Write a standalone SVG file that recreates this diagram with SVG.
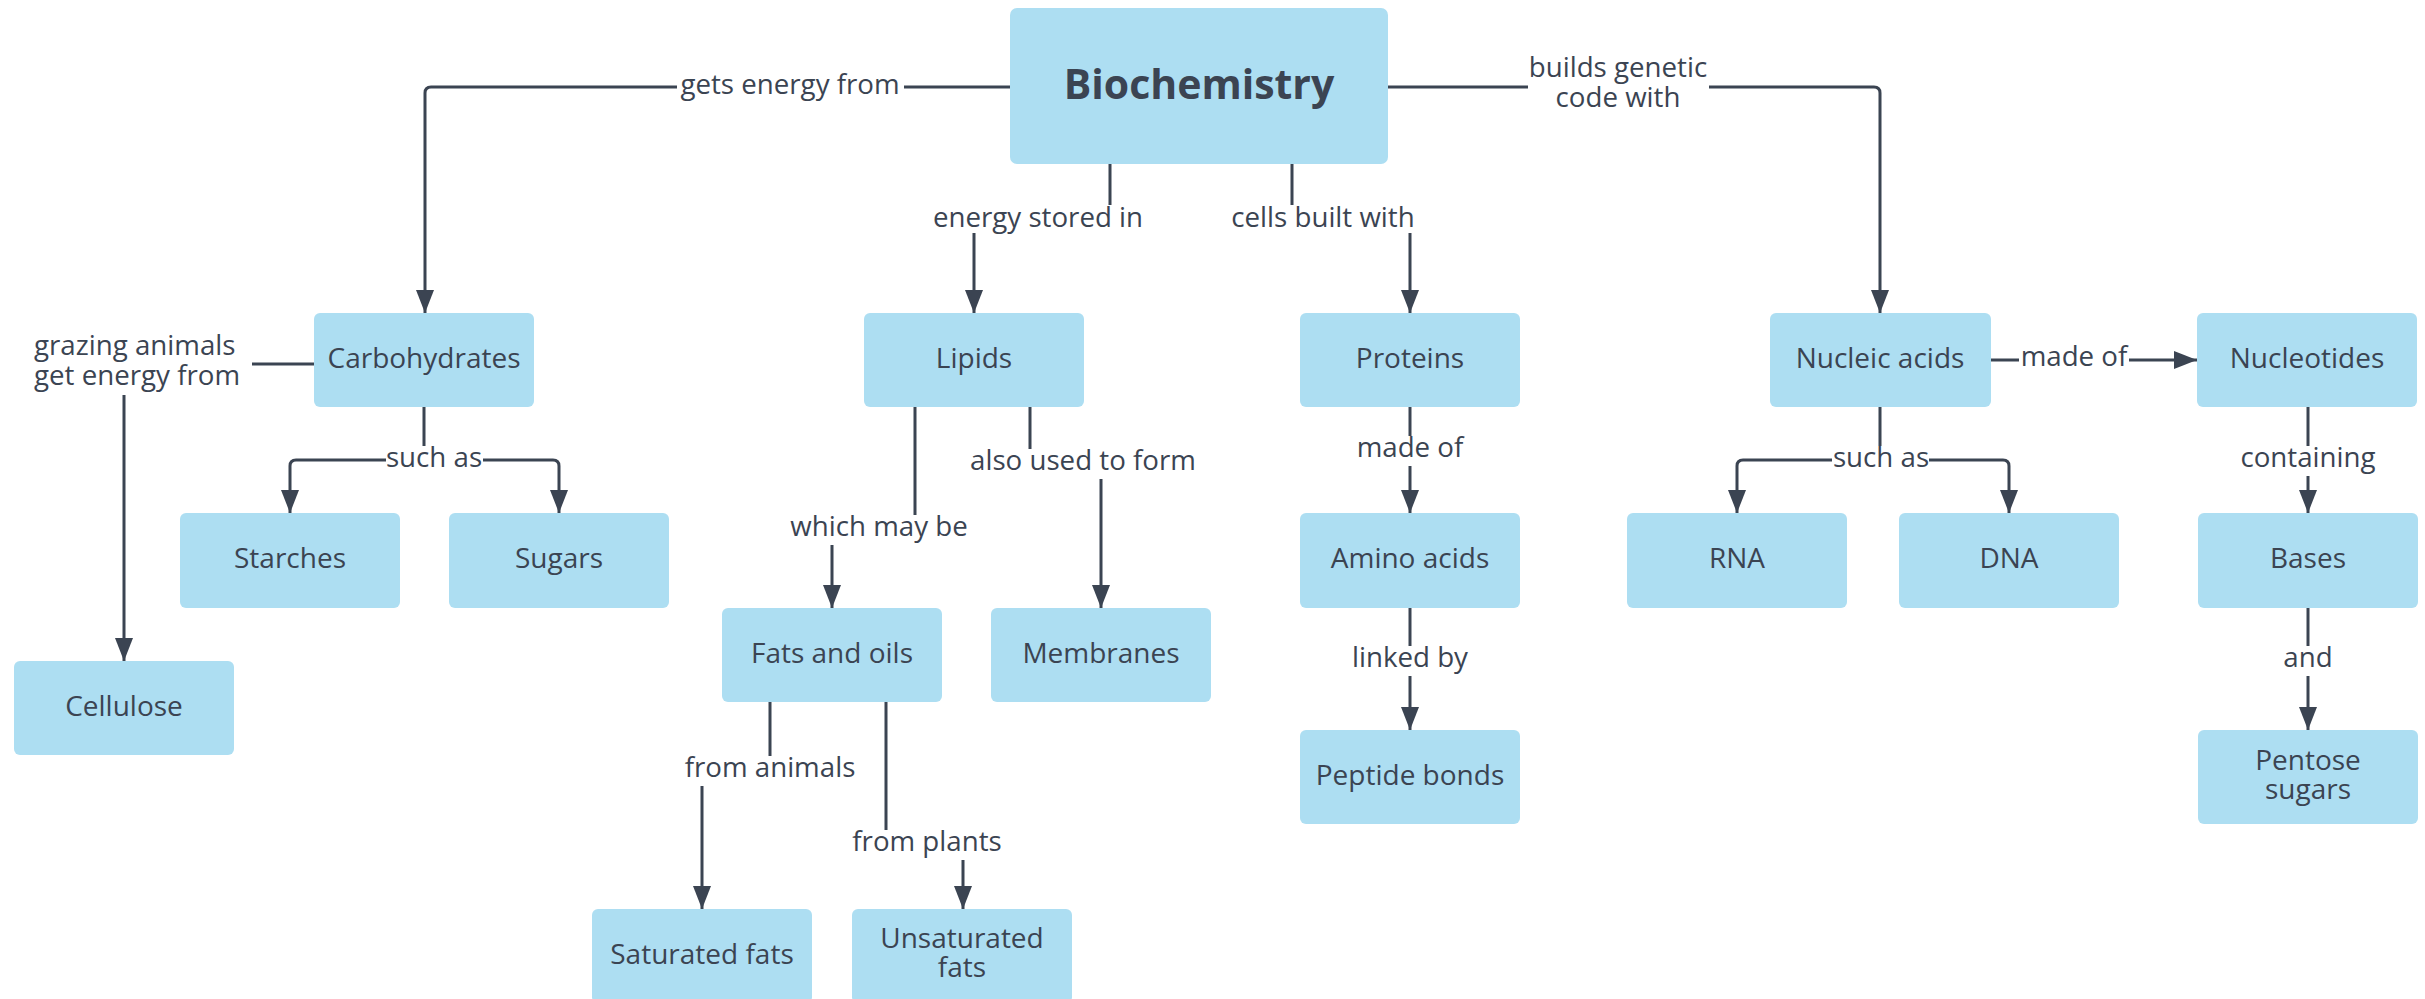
<svg xmlns="http://www.w3.org/2000/svg" width="2425" height="999" viewBox="0 0 2425 999">
<style>
.node rect{fill:#ADDEF2;}
.node text{font-family:"Open Sans","Noto Sans","Liberation Sans",sans-serif;font-size:28px;fill:#3B4452;text-anchor:middle;}
.title{font-size:41px !important;font-weight:bold;}
.conn path{fill:none;stroke:#3B4452;stroke-width:3;}
.lbl rect{fill:#FFFFFF;}
.lbl text{font-family:"Open Sans","Noto Sans","Liberation Sans",sans-serif;font-size:27.7px;fill:#3B4452;text-anchor:middle;}
</style>
<defs>
<marker id="arr" markerUnits="userSpaceOnUse" markerWidth="24" markerHeight="20" refX="23" refY="9" orient="auto">
<path d="M0,0 L23,9 L0,18 Z" fill="#3B4452"/>
</marker>
</defs>
<rect width="2425" height="999" fill="#FFFFFF"/>

<g id="connectors" class="conn">
<path d="M1010,87 H431 Q425,87 425,93 V313" marker-end="url(#arr)"/>
<path d="M1388,87 H1874 Q1880,87 1880,93 V313" marker-end="url(#arr)"/>
<path d="M1110,164 V219 H974 V313" marker-end="url(#arr)"/>
<path d="M1292,164 V219 H1410 V313" marker-end="url(#arr)"/>
<path d="M314,364 H124 V661" marker-end="url(#arr)"/>
<path d="M424,407 V460 H296 Q290,460 290,466 V513" marker-end="url(#arr)"/>
<path d="M424,460 H553 Q559,460 559,466 V513" marker-end="url(#arr)"/>
<path d="M915,407 V529 H832 V608" marker-end="url(#arr)"/>
<path d="M1030,407 V463 H1101 V608" marker-end="url(#arr)"/>
<path d="M770,702 V770 H702 V909" marker-end="url(#arr)"/>
<path d="M886,702 V845 H963 V909" marker-end="url(#arr)"/>
<path d="M1410,407 V513" marker-end="url(#arr)"/>
<path d="M1410,608 V730" marker-end="url(#arr)"/>
<path d="M1880,407 V460 H1743 Q1737,460 1737,466 V513" marker-end="url(#arr)"/>
<path d="M1880,460 H2003 Q2009,460 2009,466 V513" marker-end="url(#arr)"/>
<path d="M1991,360 H2197" marker-end="url(#arr)"/>
<path d="M2308,407 V513" marker-end="url(#arr)"/>
<path d="M2308,608 V730" marker-end="url(#arr)"/>
</g>

<g id="labels" class="lbl">
<rect x="677" y="72" width="227" height="30"/><text x="790" y="94">gets energy from</text>
<rect x="1528" y="58" width="181" height="58"/><text x="1618" y="77">builds genetic</text><text x="1618" y="107">code with</text>
<rect x="928" y="205" width="220" height="28"/><text x="1038" y="227">energy stored in</text>
<rect x="1229" y="205" width="189" height="28"/><text x="1323" y="227">cells built with</text>
<rect x="30" y="333" width="222" height="62"/><text x="34" y="355" style="text-anchor:start">grazing animals</text><text x="34" y="385" style="text-anchor:start">get energy from</text>
<rect x="386" y="446" width="97" height="28"/><text x="434" y="467">such as</text>
<rect x="789" y="515" width="180" height="30"/><text x="879" y="536">which may be</text>
<rect x="969" y="449" width="229" height="30"/><text x="1083" y="470">also used to form</text>
<rect x="684" y="756" width="172" height="30"/><text x="770" y="777">from animals</text>
<rect x="852" y="830" width="150" height="30"/><text x="927" y="851">from plants</text>
<rect x="1356" y="436" width="108" height="30"/><text x="1410" y="457">made of</text>
<rect x="1352" y="646" width="116" height="30"/><text x="1410" y="667">linked by</text>
<rect x="1832" y="446" width="97" height="28"/><text x="1881" y="467">such as</text>
<rect x="2240" y="446" width="135" height="30"/><text x="2308" y="467">containing</text>
<rect x="2283" y="646" width="49" height="30"/><text x="2308" y="667">and</text>
<rect x="2019" y="345" width="110" height="28"/><text x="2074" y="366">made of</text>
</g>

<g id="biochemistry" class="node"><rect x="1010" y="8" width="378" height="156" rx="7"/><text class="title" x="1199" y="99">Biochemistry</text></g>
<g id="carbohydrates" class="node"><rect x="314" y="313" width="220" height="94" rx="6"/><text x="424" y="368">Carbohydrates</text></g>
<g id="lipids" class="node"><rect x="864" y="313" width="220" height="94" rx="6"/><text x="974" y="368">Lipids</text></g>
<g id="proteins" class="node"><rect x="1300" y="313" width="220" height="94" rx="6"/><text x="1410" y="368">Proteins</text></g>
<g id="nucleic-acids" class="node"><rect x="1770" y="313" width="221" height="94" rx="6"/><text x="1880" y="368">Nucleic acids</text></g>
<g id="nucleotides" class="node"><rect x="2197" y="313" width="220" height="94" rx="6"/><text x="2307" y="368">Nucleotides</text></g>
<g id="starches" class="node"><rect x="180" y="513" width="220" height="95" rx="6"/><text x="290" y="568">Starches</text></g>
<g id="sugars" class="node"><rect x="449" y="513" width="220" height="95" rx="6"/><text x="559" y="568">Sugars</text></g>
<g id="amino-acids" class="node"><rect x="1300" y="513" width="220" height="95" rx="6"/><text x="1410" y="568">Amino acids</text></g>
<g id="rna" class="node"><rect x="1627" y="513" width="220" height="95" rx="6"/><text x="1737" y="568">RNA</text></g>
<g id="dna" class="node"><rect x="1899" y="513" width="220" height="95" rx="6"/><text x="2009" y="568">DNA</text></g>
<g id="bases" class="node"><rect x="2198" y="513" width="220" height="95" rx="6"/><text x="2308" y="568">Bases</text></g>
<g id="cellulose" class="node"><rect x="14" y="661" width="220" height="94" rx="6"/><text x="124" y="716">Cellulose</text></g>
<g id="fats-and-oils" class="node"><rect x="722" y="608" width="220" height="94" rx="6"/><text x="832" y="663">Fats and oils</text></g>
<g id="membranes" class="node"><rect x="991" y="608" width="220" height="94" rx="6"/><text x="1101" y="663">Membranes</text></g>
<g id="peptide-bonds" class="node"><rect x="1300" y="730" width="220" height="94" rx="6"/><text x="1410" y="785">Peptide bonds</text></g>
<g id="pentose-sugars" class="node"><rect x="2198" y="730" width="220" height="94" rx="6"/><text x="2308" y="770">Pentose</text><text x="2308" y="799">sugars</text></g>
<g id="saturated-fats" class="node"><rect x="592" y="909" width="220" height="94" rx="6"/><text x="702" y="964">Saturated fats</text></g>
<g id="unsaturated-fats" class="node"><rect x="852" y="909" width="220" height="94" rx="6"/><text x="962" y="948">Unsaturated</text><text x="962" y="977">fats</text></g>
</svg>
